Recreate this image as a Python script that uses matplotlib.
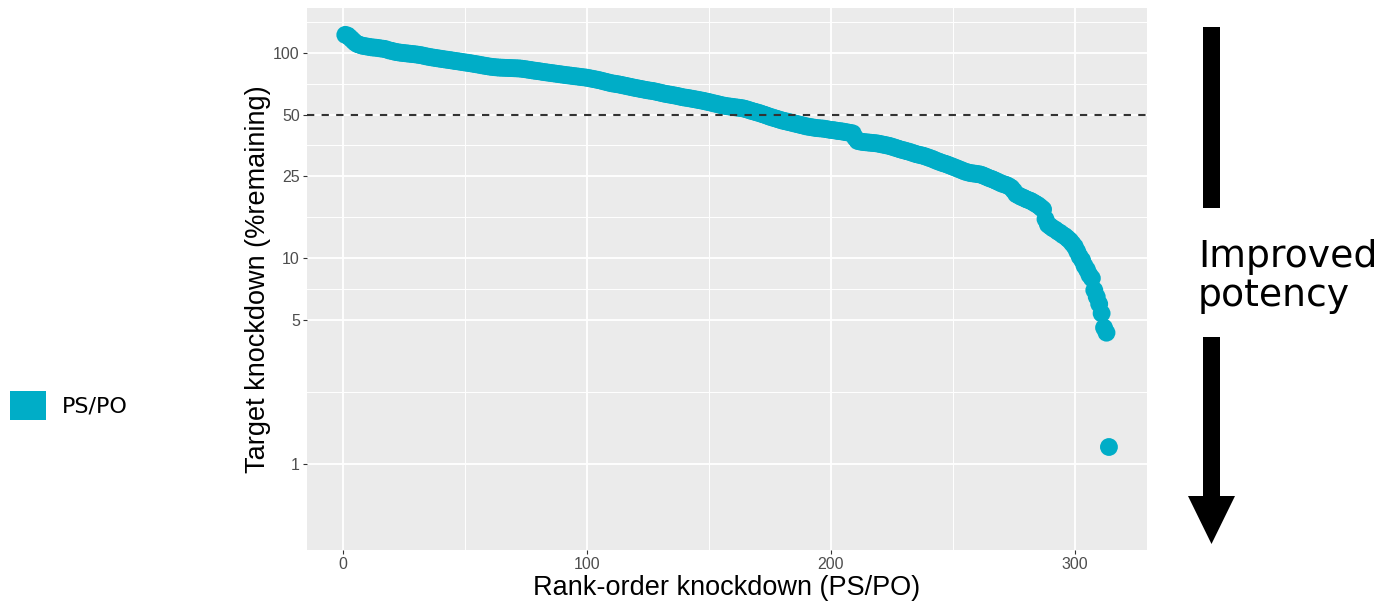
import matplotlib
matplotlib.use("Agg")
import matplotlib.pyplot as plt
from matplotlib.patches import Rectangle, Polygon, Patch
from matplotlib.ticker import FixedLocator, FixedFormatter, NullFormatter

# ---------------- data ----------------
rank = list(range(1, 315))
knockdown = [
    122, 121, 118, 115, 112, 110, 109, 108, 107.5, 107,
    106.5, 106, 105.8, 105.5, 105, 104.6, 104.3, 103.5, 102.5, 102,
    101.2, 100.6, 100.2, 99.8, 99.5, 99.2, 98.9, 98.6, 98.3, 98,
    97.6, 97.2, 96.6, 96, 95.5, 95, 94.6, 94.2, 93.8, 93.4,
    93, 92.6, 92.3, 91.9, 91.5, 91.1, 90.8, 90.4, 90, 89.6,
    89.3, 88.9, 88.5, 88.1, 87.7, 87.3, 86.8, 86.4, 86, 85.6,
    85.3, 85, 84.8, 84.6, 84.5, 84.4, 84.3, 84.2, 84.1, 84,
    83.9, 83.8, 83.6, 83.3, 83, 82.6, 82.3, 81.9, 81.6, 81.3,
    81, 80.6, 80.3, 80, 79.7, 79.4, 79.1, 78.8, 78.5, 78.2,
    77.9, 77.6, 77.4, 77.1, 76.8, 76.6, 76.3, 76, 75.8, 75.5,
    75.1, 74.7, 74.3, 73.9, 73.5, 73, 72.5, 72, 71.5, 71,
    70.7, 70.4, 70.1, 69.7, 69.3, 68.9, 68.5, 68.1, 67.7, 67.3,
    67, 66.6, 66.3, 65.9, 65.6, 65.3, 65.1, 64.7, 64.3, 63.9,
    63.5, 63.1, 62.8, 62.5, 62.2, 61.9, 61.6, 61.2, 60.8, 60.5,
    60.3, 60, 59.7, 59.4, 59.1, 58.8, 58.5, 58.2, 57.8, 57.5,
    57.1, 56.7, 56.4, 56, 55.6, 55.3, 55, 54.8, 54.6, 54.4,
    54.2, 54, 53.8, 53.6, 53.2, 52.8, 52.3, 51.9, 51.5, 51.1,
    50.7, 50.2, 49.8, 49.3, 48.8, 48.4, 48, 47.6, 47.2, 46.8,
    46.5, 46.2, 45.9, 45.6, 45.3, 45, 44.7, 44.4, 44.1, 43.8,
    43.6, 43.4, 43.2, 43, 42.9, 42.8, 42.7, 42.5, 42.3, 42.1,
    42, 41.8, 41.6, 41.5, 41.3, 41.1, 40.9, 40.7, 40.5, 38.5,
    37.2, 37, 36.8, 36.7, 36.6, 36.5, 36.4, 36.3, 36.2, 36,
    35.8, 35.6, 35.4, 35.2, 34.9, 34.6, 34.3, 34, 33.7, 33.5,
    33.2, 33, 32.7, 32.4, 32.1, 31.9, 31.7, 31.5, 31.2, 30.9,
    30.6, 30.3, 29.9, 29.6, 29.3, 29, 28.8, 28.5, 28.2, 27.9,
    27.6, 27.3, 27, 26.7, 26.4, 26.2, 26, 25.9, 25.8, 25.7,
    25.6, 25.4, 25.1, 24.8, 24.5, 24.3, 24, 23.7, 23.4, 23.1,
    22.9, 22.7, 22.4, 22, 21.3, 20.5, 20.2, 19.9, 19.7, 19.4,
    19.2, 19, 18.7, 18.4, 18.1, 17.7, 17.3, 15.5, 14.6, 14.3,
    14, 13.8, 13.5, 13.3, 13, 12.8, 12.5, 12.2, 11.8, 11.4,
    10.8, 10.2, 9.8, 9.2, 8.8, 8.3, 8, 7, 6.5, 6,
    5.4, 4.6, 4.35, 1.21,
]
threshold = 50
series_name = "PS/PO"
x_breaks = [0, 100, 200, 300]
x_labels = ["0", "100", "200", "300"]
x_minor = [50, 150, 250]
y_breaks = [1, 5, 10, 25, 50, 100]
y_labels = ["1", "5", "10", "25", "50", "100"]
y_minor = [2.236, 7.071, 15.81, 35.36, 70.71, 141.4]
x_title = "Rank-order knockdown (PS/PO)"
y_title = "Target knockdown (%remaining)"
annotation = ["Improved", "potency"]

# ---------------- style ----------------
W, H = 1381, 601
POINT = "#00ADC7"
PANEL = "#EBEBEB"
SANS = ["Liberation Sans", "DejaVu Sans"]

def fx(px):
    return px / W

def fy(py):
    return 1 - py / H

fig = plt.figure(figsize=(W / 100, H / 100), dpi=100)
ax = fig.add_axes([fx(307), fy(550), (1147 - 307) / W, (550 - 8) / H])
ax.set_facecolor(PANEL)
ax.set_yscale("log")
ax.set_xlim(-14.7, 329.6)
ax.set_ylim(0.382, 164.8)

ax.xaxis.set_major_locator(FixedLocator(x_breaks))
ax.xaxis.set_major_formatter(FixedFormatter(x_labels))
ax.xaxis.set_minor_locator(FixedLocator(x_minor))
ax.xaxis.set_minor_formatter(NullFormatter())
ax.yaxis.set_major_locator(FixedLocator(y_breaks))
ax.yaxis.set_major_formatter(FixedFormatter(y_labels))
ax.yaxis.set_minor_locator(FixedLocator(y_minor))
ax.yaxis.set_minor_formatter(NullFormatter())

ax.set_axisbelow(True)
ax.grid(which="major", color="white", linewidth=1.3)
ax.grid(which="minor", color="white", linewidth=0.7)
for s in ax.spines.values():
    s.set_visible(False)
ax.tick_params(which="major", length=3.2, width=0.8, color="#333333",
               labelcolor="#4D4D4D", labelsize=11.5, pad=2)
ax.tick_params(which="minor", length=0)
for lab in ax.get_xticklabels() + ax.get_yticklabels():
    lab.set_family(SANS)

ax.scatter(rank, knockdown, s=165, color=POINT, edgecolors="none", zorder=3)
ax.axhline(threshold, color="#333333", linewidth=1.5,
           linestyle=(0, (3.5, 3.5)), zorder=4)

ax.set_xlabel(x_title, fontsize=19.5, family=SANS, color="black")
ax.xaxis.set_label_coords(0.5, (550 - 588) / 542)
ax.xaxis.label.set_va("center")
ax.set_ylabel(y_title, fontsize=19.5, family=SANS, color="black")
ax.yaxis.set_label_coords((258 - 307) / 840, 0.5)
ax.yaxis.label.set_va("center")

# legend on the far left
leg = fig.legend(handles=[Patch(facecolor=POINT, edgecolor="none", label=series_name)],
                 loc="center left", bbox_to_anchor=(fx(10), fy(405.5)),
                 frameon=False, borderpad=0, borderaxespad=0,
                 handlelength=1.62, handleheight=1.58, handletextpad=0.72,
                 prop={"family": "DejaVu Sans", "size": 16})

# "Improved potency" arrow annotation
fig.patches.append(Rectangle((fx(1203), fy(208)), (1220 - 1203) / W, (208 - 27) / H,
                             transform=fig.transFigure, facecolor="black",
                             edgecolor="none"))
arrow_pts = [(1203, 337), (1220, 337), (1220, 496), (1235, 496), (1211.5, 544),
             (1188, 496), (1203, 496)]
fig.patches.append(Polygon([(fx(a), fy(b)) for a, b in arrow_pts], closed=True,
                           transform=fig.transFigure, facecolor="black",
                           edgecolor="none"))
fig.text(fx(1198), fy(267), annotation[0], fontsize=27.2, family="DejaVu Sans",
         color="black", ha="left", va="baseline")
fig.text(fx(1198), fy(306), annotation[1], fontsize=27.2, family="DejaVu Sans",
         color="black", ha="left", va="baseline")

fig.savefig("out.png", dpi=100, facecolor="white")
